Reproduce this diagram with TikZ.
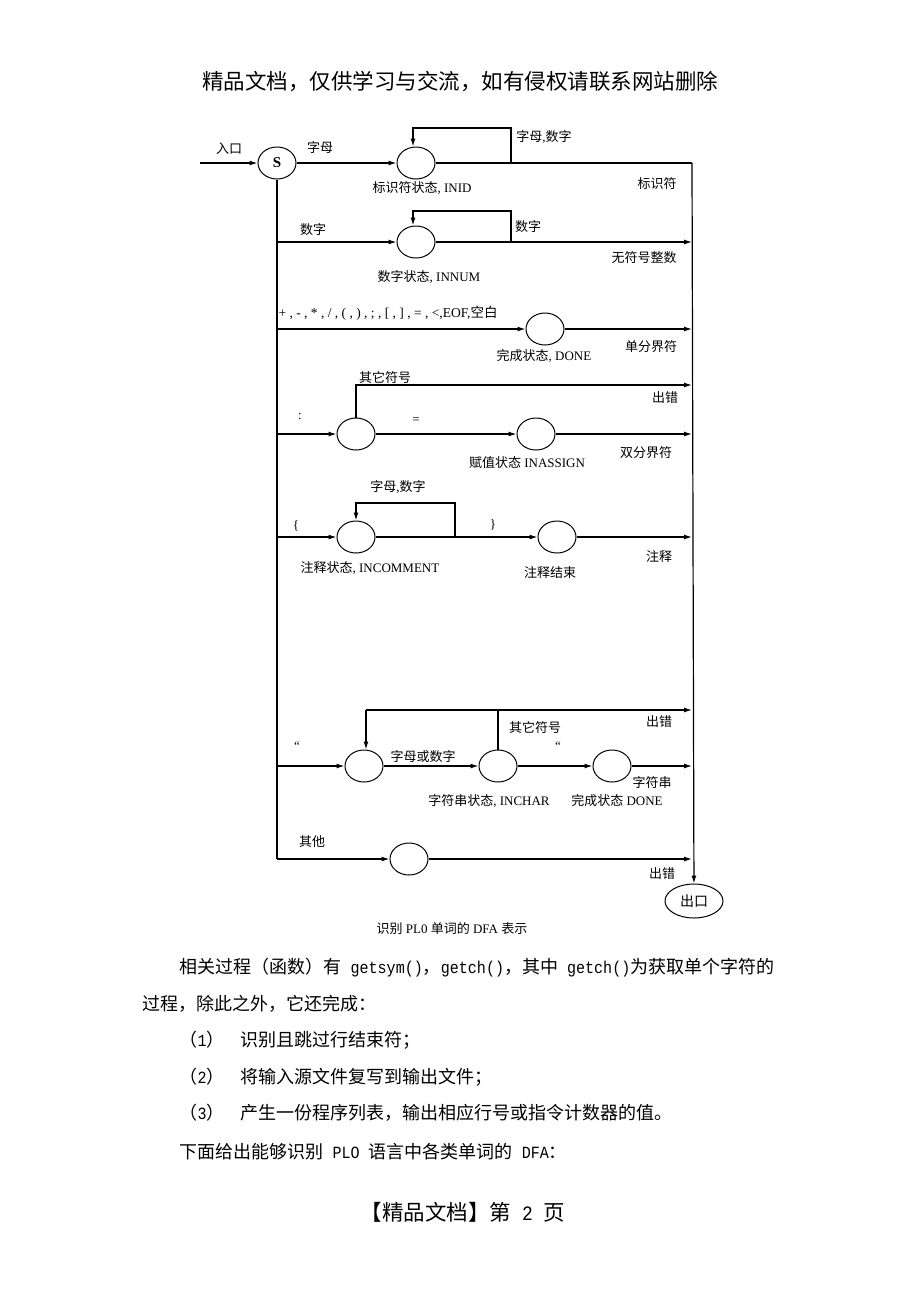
\documentclass[tikz,border=0pt]{standalone}
\usepackage{fontspec}
\setmainfont{Liberation Serif}
\newfontfamily\cjk{Noto Sans CJK SC}
\newfontfamily\mono[Scale=0.95,FakeStretch=0.88]{Liberation Mono}
\usetikzlibrary{arrows.meta,shapes.geometric}
\newcommand\zh[1]{{\cjk #1}}
\begin{document}
\begin{tikzpicture}[x=1pt,y=-1pt,
  line width=1.2pt,
  st/.style={draw, ellipse, minimum width=38pt, minimum height=32pt, inner sep=0pt, line width=1pt},
  arr/.style={-{Latex[length=8pt,width=5pt]}},
  lab/.style={font=\fontsize{13}{15}\selectfont, inner sep=0pt},
  body/.style={font=\fontsize{18}{20}\selectfont, inner sep=0pt, anchor=west},
  hdr/.style={font=\fontsize{21.5}{24}\selectfont, inner sep=0pt}]
\fill[white] (0,0) rectangle (920,1302);
\useasboundingbox (0,0) rectangle (920,1302);

% header
\node[hdr] (hdr) at (460,82) {\cjk 精品文档，仅供学习与交流，如有侵权请联系网站删除};

% states
\node[st, font=\bfseries\fontsize{15}{15}\selectfont] (S) at (277,163) {S};
\node[st] (inid) at (416,163) {};
\node[st] (innum) at (416,242) {};
\node[st] (done) at (545,329) {};
\node[st] (colon) at (356,434) {};
\node[st] (assign) at (536,434) {};
\node[st] (incom) at (356,537) {};
\node[st] (comend) at (557,537) {};
\node[st] (str1) at (364,766) {};
\node[st] (inchar) at (498,766) {};
\node[st] (done2) at (612,766) {};
\node[st] (other) at (409,859) {};
\node[st, minimum width=58pt, minimum height=34pt, font=\fontsize{14}{16}\selectfont] (exit) at (694,901) {\zh{出口}};

\coordinate (entry) at (200,163);
\coordinate (R1) at (692,163);
\coordinate (Lbot) at (277,859);
\coordinate (lp1) at (511,163);
\coordinate (lp2) at (511,242);
\coordinate (lp5) at (455,537);
\coordinate (err4) at (692,385);
\coordinate (top6) at (366,710);
\coordinate (err6) at (692,710);

% row 1
\draw[arr] (entry) -- (S);
\draw[arr] (S) -- (inid);
\draw (inid) -- (R1);
\draw[arr] (R1) -- (exit);
\draw[arr] (lp1) -- ++(0,-35) -| ([xshift=-3pt]inid.north);
\draw (S.south) -- (Lbot);
% row 2
\draw[arr] (S |- innum) -- (innum);
\draw[arr] (innum) -- (innum -| R1);
\draw[arr] (lp2) -- ++(0,-31) -| ([xshift=-3pt]innum.north);
% row 3
\draw[arr] (S |- done) -- (done);
\draw[arr] (done) -- (done -| R1);
% row 4
\draw[arr] (S |- colon) -- (colon);
\draw[arr] (colon) -- (assign);
\draw[arr] (assign) -- (assign -| R1);
\draw[arr] (colon.north) |- (err4);
% row 5
\draw[arr] (S |- incom) -- (incom);
\draw[arr] (incom) -- (comend);
\draw[arr] (comend) -- (comend -| R1);
\draw[arr] (lp5) -- ++(0,-34) -| (incom.north);
% row 6
\draw[arr] (S |- str1) -- (str1);
\draw[arr] (str1) -- (inchar);
\draw[arr] (inchar) -- (done2);
\draw[arr] (done2) -- (done2 -| R1);
\draw[arr] (top6) -- (err6);
\draw[arr] (top6) -- (top6 |- str1.north);
\draw (inchar.north) -- (inchar.north |- top6);
% row 7
\draw[arr] (Lbot) -- (other);
\draw[arr] (other) -- (other -| R1);

% labels
\node[lab] (t1) at (229,149) {\zh{入口}};
\node[lab] (t2) at (320,148) {\zh{字母}};
\node[lab] (t3) at (544,137) {\zh{字母},\zh{数字}};
\node[lab] (t4) at (657,184) {\zh{标识符}};
\node[lab] (t5) at (422,188) {\zh{标识符状态}, INID};
\node[lab] (t6) at (313,230) {\zh{数字}};
\node[lab] (t7) at (528,227) {\zh{数字}};
\node[lab] (t8) at (644,258) {\zh{无符号整数}};
\node[lab] (t9) at (429,277) {\zh{数字状态}, INNUM};
\node[lab, anchor=west, font=\fontsize{13.5}{15}\selectfont] (t10) at (278,313) {+ , - , * , / , ( , ) , ; , [ , ] , = , <,EOF,\zh{空白}};
\node[lab] (t11) at (544,356) {\zh{完成状态}, DONE};
\node[lab] (t12) at (651,347) {\zh{单分界符}};
\node[lab] (t13) at (385,378) {\zh{其它符号}};
\node[lab] (t14) at (665,398) {\zh{出错}};
\node[lab] (t15) at (300,417) {:};
\node[lab] (t16) at (416,421) {=};
\node[lab] (t17) at (646,453) {\zh{双分界符}};
\node[lab] (t18) at (527,463) {\zh{赋值状态} INASSIGN};
\node[lab] (t19) at (398,487) {\zh{字母},\zh{数字}};
\node[lab] (t20) at (296,526) {\{};
\node[lab] (t21) at (493,525) {\}};
\node[lab] (t22) at (659,557) {\zh{注释}};
\node[lab] (t23) at (370,568) {\zh{注释状态}, INCOMMENT};
\node[lab] (t24) at (550,573) {\zh{注释结束}};
\node[lab] (t25) at (659,722) {\zh{出错}};
\node[lab] (t26) at (535,728) {\zh{其它符号}};
\node[lab] (t27) at (297,746) {``};
\node[lab] (t28) at (558,746) {``};
\node[lab] (t29) at (423,757) {\zh{字母或数字}};
\node[lab] (t30) at (652,783) {\zh{字符串}};
\node[lab] (t31) at (489,801) {\zh{字符串状态}, INCHAR};
\node[lab] (t32) at (617,801) {\zh{完成状态} DONE};
\node[lab] (t33) at (312,842) {\zh{其他}};
\node[lab] (t34) at (662,874) {\zh{出错}};
\node[lab] (cap) at (452,929) {\zh{识别} PL0 \zh{单词的} DFA \zh{表示}};

% body text
\node[body] (p1) at (179,968) {{\cjk 相关过程（函数）有}{\mono\ getsym()}{\cjk ，}{\mono getch()}{\cjk ，其中}{\mono\ getch()}{\cjk 为获取单个字符的}};
\node[body] (p2) at (142,1004) {\cjk 过程，除此之外，它还完成：};
\node[body] (n1) at (179,1040) {{\cjk （}{\mono 1}{\cjk ）}};
\node[body] (i1) at (240,1040) {\cjk 识别且跳过行结束符；};
\node[body] (n2) at (179,1077) {{\cjk （}{\mono 2}{\cjk ）}};
\node[body] (i2) at (240,1077) {\cjk 将输入源文件复写到输出文件；};
\node[body] (n3) at (179,1113) {{\cjk （}{\mono 3}{\cjk ）}};
\node[body] (i3) at (240,1113) {\cjk 产生一份程序列表，输出相应行号或指令计数器的值。};
\node[body] (p3) at (179,1152) {{\cjk 下面给出能够识别}{\mono\ PLO }{\cjk 语言中各类单词的}{\mono\ DFA}{\cjk ：}};

% footer
\node[hdr] (ftr) at (463,1212) {{\cjk 【精品文档】第}{\mono\ 2 }{\cjk 页}};
\end{tikzpicture}
\end{document}
